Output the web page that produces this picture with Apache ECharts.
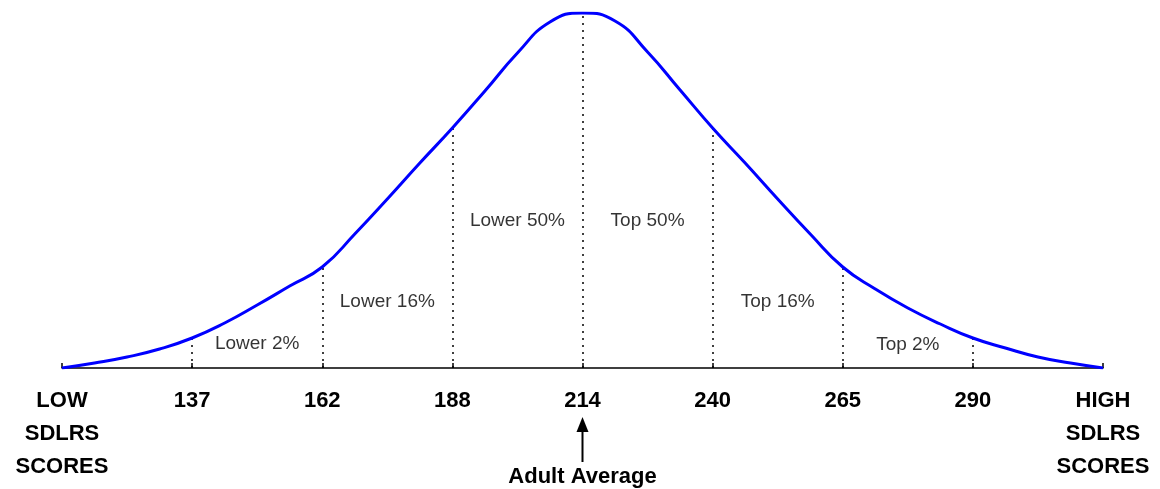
<!DOCTYPE html>
<html>
<head>
<meta charset="utf-8">
<script src="https://cdn.jsdelivr.net/npm/echarts@6/dist/echarts.min.js"></script>
<style>
  html, body { margin: 0; padding: 0; background: #fff; }
  #chart { width: 1160px; height: 489px; }
</style>
</head>
<body>
<div id="chart"></div>
<script>
// x is in standard-deviation steps from the mean (-4 .. 4), every 0.25
var curveX = [-4, -3.75, -3.5, -3.25, -3, -2.75, -2.5, -2.25, -2, -1.75, -1.5, -1.25, -1, -0.75, -0.5, -0.25,
  0, 0.25, 0.5, 0.75, 1, 1.25, 1.5, 1.75, 2, 2.25, 2.5, 2.75, 3, 3.25, 3.5, 3.75, 4];
var curveY = [0, 5, 11, 19, 30, 45, 63, 82, 101, 134, 169, 205, 240, 277, 315, 346,
  355, 347, 316, 278, 240, 205, 169, 134, 101, 79, 60, 44, 30, 20, 11, 5, 0];

// tick labels at each step
var tickLabels = ['LOW\nSDLRS\nSCORES', '137', '162', '188', '214', '240', '265', '290', 'HIGH\nSDLRS\nSCORES'];

// dotted dividers
var dividers = [-3, -2, -1, 0, 1, 2, 3];

// band labels
var bandNames = ['Lower 2%', 'Lower 16%', 'Lower 50%', 'Top 50%', 'Top 16%', 'Top 2%'];
var bandX = [-2.5, -1.5, -0.5, 0.5, 1.5, 2.5];
var bandY = [24, 66, 147, 147, 66, 23];

// note under the mean
var averageText = 'Adult Average';
var averageAt = 0;

var chart = echarts.init(document.getElementById('chart'));

function curveAt(x) {
  var i = curveX.indexOf(x);
  return curveY[i];
}

var curveData = curveX.map(function (x, i) { return [x, curveY[i]]; });

var dividerLines = dividers.map(function (x) {
  return [{ coord: [x, 0] }, { coord: [x, curveAt(x)] }];
});

var bandData = bandX.map(function (x, i) { return [x, bandY[i]]; });

var option = {
  animation: false,
  backgroundColor: '#fff',
  grid: { left: 62, right: 57, top: 13, bottom: 121, outerBoundsMode: 'none', containLabel: false },
  xAxis: {
    type: 'value',
    min: -4,
    max: 4,
    interval: 1,
    splitLine: { show: false },
    axisLine: { onZero: false, lineStyle: { color: '#000', width: 1.5 } },
    axisTick: { inside: true, length: 5, lineStyle: { color: '#000', width: 1.5 } },
    axisLabel: {
      showMinLabel: true,
      showMaxLabel: true,
      hideOverlap: false,
      margin: 16,
      color: '#000',
      fontFamily: 'Liberation Sans, Arial, sans-serif',
      fontWeight: 'bold',
      fontSize: 22,
      lineHeight: 33,
      formatter: function (v) { return tickLabels[Math.round(v) + 4]; }
    }
  },
  yAxis: {
    type: 'value',
    min: 0,
    max: 355,
    show: false
  },
  series: [
    {
      type: 'line',
      data: curveData,
      smooth: 0.5,
      symbol: 'none',
      lineStyle: { color: '#0000ff', width: 3 },
      z: 5,
      markLine: {
        silent: true,
        symbol: ['none', 'none'],
        label: { show: false },
        lineStyle: { color: '#000', type: [2, 5], width: 1.5 },
        data: dividerLines
      }
    },
    {
      type: 'scatter',
      data: bandData,
      symbolSize: 1,
      itemStyle: { color: 'rgba(0,0,0,0)' },
      label: {
        show: true,
        position: 'inside',
        color: '#000',
        fontFamily: 'Liberation Sans, Arial, sans-serif',
        fontSize: 19,
        formatter: function (p) { return bandNames[p.dataIndex]; }
      }
    }
  ]
};

chart.setOption(option);

// arrow + caption below the axis, placed from the mean's pixel position
var base = chart.convertToPixel({ gridIndex: 0 }, [averageAt, 0]);
var ax = base[0], ay = base[1];
chart.setOption({
  graphic: [
    {
      type: 'line',
      shape: { x1: ax, y1: ay + 60, x2: ax, y2: ay + 94 },
      style: { stroke: '#000', lineWidth: 2 }
    },
    {
      type: 'polygon',
      shape: { points: [[ax, ay + 49], [ax - 6, ay + 64], [ax + 6, ay + 64]] },
      style: { fill: '#000' }
    },
    {
      type: 'text',
      x: ax,
      y: ay + 109,
      style: {
        text: averageText,
        fill: '#000',
        font: 'bold 22px "Liberation Sans", Arial, sans-serif',
        align: 'center',
        verticalAlign: 'middle'
      }
    }
  ]
});
</script>
</body>
</html>
